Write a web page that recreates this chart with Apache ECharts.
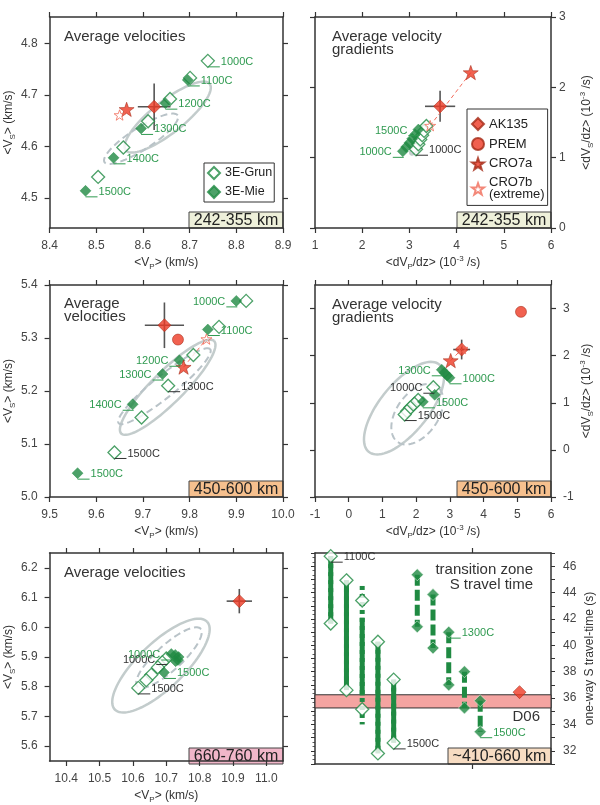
<!DOCTYPE html>
<html>
<head>
<meta charset="utf-8">
<script src="https://cdn.jsdelivr.net/npm/echarts@6/dist/echarts.min.js"></script>
<style>
  html, body { margin: 0; padding: 0; background: #fff; }
  #chart { width: 600px; height: 805px; }
</style>
</head>
<body>
<div id="chart"></div>
<script>
// ---------------- data ----------------
// 242-355 km, average velocities
var p1Grun = [[8.739,4.766],[8.701,4.733],[8.658,4.692],[8.611,4.649],[8.558,4.598],[8.504,4.541]];
var p1Mie  = [[8.696,4.729],[8.648,4.684],[8.596,4.635],[8.537,4.578],[8.477,4.514]];
var p1GrunTags = ['1000C','','','','',''];
var p1MieTags  = ['1100C','1200C','1300C','1400C','1500C'];
var p1Ak135 = [8.624,4.677], p1Ak135Err = [0.035,0.045];
var p1Cro7a = [8.565,4.672], p1Cro7b = [8.550,4.661];
// ellipses: centre x, y, half-axis a (dx, dy), half-axis b (dx, dy)
var p1Ellipses = [[8.653,4.657, 0.090,0.0642, -0.0208,0.0246], [8.596,4.615, 0.0784,0.0453, -0.0124,0.0182]];
var p1XTicks = [8.4,8.5,8.6,8.7,8.8,8.9], p1YTicks = [4.5,4.6,4.7,4.8];

// 242-355 km, average gradients
var p2Grun = [[3.14,1.12],[3.19,1.19],[3.23,1.26],[3.27,1.32],[3.31,1.38],[3.36,1.45]];
var p2Mie  = [[2.86,1.09],[2.93,1.15],[3.00,1.21],[3.06,1.27],[3.12,1.33],[3.19,1.40]];
var p2GrunTags = ['1000C','','','','',''];
var p2MieTags  = ['1000C','','','','','1500C'];
var p2Ak135 = [3.65,1.73], p2Ak135Err = [0.32,0.22];
var p2Cro7a = [4.30,2.21], p2Cro7b = [3.44,1.455];
var p2Ellipses = [[3.15,1.15, 0.12,0.10, -0.05,0.03]];
var p2XTicks = [1,2,3,4,5,6], p2YTicks = [0,1,2,3];

// 450-600 km, average velocities
var p3Grun = [[9.921,5.370],[9.863,5.321],[9.808,5.268],[9.754,5.210],[9.697,5.150],[9.639,5.084]];
var p3Mie  = [[9.900,5.370],[9.839,5.316],[9.778,5.258],[9.742,5.232],[9.678,5.175],[9.560,5.045]];
var p3GrunTags = ['','','','1300C','','1500C'];
var p3MieTags  = ['1000C','1100C','1200C','1300C','1400C','1500C'];
var p3Ak135 = [9.746,5.324], p3Ak135Err = [0.042,0.043];
var p3Prem = [9.775,5.297];
var p3Cro7a = [9.787,5.245], p3Cro7b = [9.836,5.298];
var p3Ellipses = [[9.753,5.207, 0.0996,0.0872, -0.0237,0.0215], [9.746,5.209, 0.0981,0.0698, -0.0145,0.0162]];
var p3XTicks = [9.5,9.6,9.7,9.8,9.9,10.0], p3YTicks = [5.0,5.1,5.2,5.3,5.4];

// 450-600 km, average gradients
var p4Grun = [[2.51,1.33],[2.06,1.06],[1.95,0.98],[1.83,0.90],[1.73,0.82],[1.66,0.75]];
var p4Mie  = [[2.99,1.53],[2.92,1.58],[2.84,1.64],[2.76,1.70],[2.55,1.17],[2.20,1.02]];
var p4GrunTags = ['1000C','','','','','1500C'];
var p4MieTags  = ['1000C','','','1300C','','1500C'];
var p4Ak135 = [3.35,2.13], p4Ak135Err = [0.25,0.21];
var p4Prem = [5.11,2.93];
var p4Cro7a = [3.025,1.896], p4Cro7b = [3.37,2.15];
var p4Ellipses = [[1.64,0.886, 1.047,0.927, -0.56,0.327], [2.035,0.758, 0.587,0.589, -0.50,0.26]];
var p4XTicks = [-1,0,1,2,3,4,5,6], p4YTicks = [-1,0,1,2,3];

// 660-760 km, average velocities
var p5Grun = [[10.700,5.895],[10.688,5.882],[10.675,5.865],[10.655,5.840],[10.640,5.822],[10.616,5.796]];
var p5Mie  = [[10.715,5.910],[10.727,5.907],[10.737,5.900],[10.735,5.890],[10.728,5.886],[10.693,5.848]];
var p5GrunTags = ['1000C','','','','','1500C'];
var p5MieTags  = ['1000C','','','','','1500C'];
var p5Ak135 = [10.919,6.088], p5Ak135Err = [0.038,0.041];
var p5Ellipses = [[10.684,5.871, 0.1384,0.1478, -0.0469,0.0555], [10.708,5.898, 0.095,0.097, -0.0258,0.0319]];
var p5XTicks = [10.4,10.5,10.6,10.7,10.8,10.9,11.0], p5YTicks = [5.6,5.7,5.8,5.9,6.0,6.1,6.2];

// ~410-660 km, transition zone S travel time
var p6GrunX        = [0.10,0.20,0.30,0.40,0.50];
var p6GrunHigh     = [46.76,44.93,43.40,40.27,37.40];
var p6GrunLow      = [41.65,36.60,35.15,31.80,32.60];
var p6GrunCoreHigh = [46.76,44.93,42.10,40.27,37.40];
var p6GrunCoreLow  = [41.65,36.60,36.20,31.80,32.60];
var p6GrunSpanHigh = [46.76,44.93,44.50,40.27,37.40];
var p6GrunSpanLow  = [41.65,36.60,34.00,31.80,32.60];
var p6MieX    = [0.65,0.75,0.85,0.95,1.05];
var p6MieHigh = [45.35,43.85,41.00,38.00,35.80];
var p6MieLow  = [41.40,39.80,37.00,35.25,33.45];
var p6GrunHighTags = ['1100C','','','',''], p6GrunLowTags = ['','','','','1500C'];
var p6MieHighTags  = ['','','1300C','',''], p6MieLowTags  = ['','','','','1500C'];
var p6D06 = [1.30,36.45];
var p6D06Band = [35.25,36.25];
var p6XTicks = [1], p6YTicks = [32,34,36,38,40,42,44,46];

// ---------------- styles / helpers ----------------
var FONT = '"Liberation Sans", Arial, sans-serif';
var G = '#1f8a42', GL = '#2f9a50', K = '#333', RED = '#ee3a24', REDB = '#a42a16';
var STAR = 'path://M50,0L61.8,33.8L97.6,34.5L69,56.2L79.4,90.5L50,70L20.6,90.5L31,56.2L2.4,34.5L38.2,33.8Z';

var grids = [
  {left: 47,  top: 17,  width: 236, height: 211},
  {left: 315, top: 17,  width: 236, height: 211},
  {left: 47,  top: 285, width: 236, height: 212},
  {left: 315, top: 285, width: 236, height: 212},
  {left: 47,  top: 553, width: 236, height: 211},
  {left: 315, top: 553, width: 236, height: 211}
];
var xAxes = [], yAxes = [], series = [], graphics = [];

var richName = {
  s: {fontSize: 8, verticalAlign: 'bottom', lineHeight: 10, color: K, fontFamily: FONT},
  u: {fontSize: 8, verticalAlign: 'top', lineHeight: 10, color: K, fontFamily: FONT}
};

function axis(gi, pos, range, ticks, showLabels, fmt, margin) {
  return {
    type: 'value', gridIndex: gi, position: pos, min: range[0], max: range[1],
    splitLine: {show: false},
    axisLine: {show: true, onZero: false, lineStyle: {color: K, width: 1.5}},
    axisTick: {show: true, length: 5, customValues: ticks, lineStyle: {color: K, width: 1.2}},
    axisLabel: {show: showLabels, customValues: ticks, formatter: fmt, margin: margin || 12,
      color: '#444', fontSize: 12, fontFamily: FONT},
    nameTextStyle: {fontSize: 12, color: K, fontFamily: FONT, lineHeight: 16, rich: richName}
  };
}
function f1(v) { return v.toFixed(1); }
function f0(v) { return String(Math.round(v)); }

function addAxes(gi, xr, yr, xt, yt, fmt, xName, yName, rightSide, rMargin) {
  var xb = axis(gi, 'bottom', xr, xt, true, fmt, 12);
  xb.name = xName; xb.nameLocation = 'middle'; xb.nameGap = 27;
  xAxes.push(xb, axis(gi, 'top', xr, xt, false, fmt));
  var yl = axis(gi, 'left', yr, yt, !rightSide, fmt, 12);
  var yrr = axis(gi, 'right', yr, yt, rightSide, fmt, rMargin || 12);
  var ny = rightSide ? yrr : yl;
  ny.name = yName; ny.nameLocation = 'middle'; ny.nameRotate = 90; ny.nameGap = rightSide ? 28 : 30;
  yAxes.push(yl, yrr);
}

function onGrid(gi, s) { s.xAxisIndex = 2 * gi; s.yAxisIndex = 2 * gi; return s; }

function scatter(gi, name, data, sym, size, style, z) {
  return onGrid(gi, {type: 'scatter', name: name, data: data, symbol: sym, symbolSize: size,
    symbolKeepAspect: true, itemStyle: style, z: z, silent: true});
}

var openG = {color: '#fff', borderColor: G, borderWidth: 1.3};
var fillG = {color: G, borderColor: G, borderWidth: 0.5};
var redS  = {color: RED, borderColor: REDB, borderWidth: 0.7};
var openStar = {color: 'rgba(0,0,0,0)', borderColor: '#f06a58', borderWidth: 1};

function ellipseSeries(gi, e, dashed) {
  return onGrid(gi, {
    type: 'custom', silent: true, z: 1, data: [[e[0], e[1]]],
    renderItem: function (params, api) {
      var pts = [];
      for (var k = 0; k <= 90; k++) {
        var t = k / 90 * 2 * Math.PI;
        pts.push(api.coord([e[0] + e[2] * Math.cos(t) + e[4] * Math.sin(t),
                            e[1] + e[3] * Math.cos(t) + e[5] * Math.sin(t)]));
      }
      return {type: 'polyline', shape: {points: pts},
        style: {fill: null, stroke: dashed ? '#b9c3c8' : '#c3cccc', lineWidth: dashed ? 2 : 2.5,
                lineDash: dashed ? [7, 4] : null}};
    }
  });
}

function errSeries(gi, p, err) {
  return onGrid(gi, {
    type: 'custom', silent: true, z: 2, data: [p],
    renderItem: function (params, api) {
      var a = api.coord([p[0] - err[0], p[1]]), b = api.coord([p[0] + err[0], p[1]]);
      var c = api.coord([p[0], p[1] - err[1]]), d = api.coord([p[0], p[1] + err[1]]);
      var st = {stroke: '#555', lineWidth: 1.6};
      return {type: 'group', children: [
        {type: 'line', shape: {x1: a[0], y1: a[1], x2: b[0], y2: b[1]}, style: st},
        {type: 'line', shape: {x1: c[0], y1: c[1], x2: d[0], y2: d[1]}, style: st}
      ]};
    }
  });
}

function tagItems(pts, tags, sides) {
  var out = [];
  pts.forEach(function (p, i) { if (tags[i]) out.push({p: p, t: tags[i], s: sides[i] || 'r'}); });
  return out;
}

function tagSeries(gi, items, color) {
  return onGrid(gi, {
    type: 'custom', silent: true, z: 6, data: items.map(function (d) { return d.p; }),
    renderItem: function (params, api) {
      var it = items[params.dataIndex];
      var c = api.coord(it.p);
      var r = it.s === 'r';
      var y = c[1] + 6;
      var x1 = r ? c[0] + 12 : c[0] - 10;
      return {type: 'group', children: [
        {type: 'line', shape: {x1: r ? c[0] : c[0] + 1, y1: y, x2: x1, y2: y}, style: {stroke: color, lineWidth: 1}},
        {type: 'text', style: {text: it.t, x: r ? x1 + 1 : x1 - 1, y: c[1] + 1, fill: color,
          font: '11px ' + FONT, align: r ? 'left' : 'right', verticalAlign: 'middle'}}
      ]};
    }
  });
}

function crLine(gi, a, b) {
  return onGrid(gi, {type: 'line', data: [a, b], symbol: 'none', silent: true, z: 2,
    lineStyle: {color: '#f26b5b', width: 1, type: [4, 3]}});
}

function addPanel(gi, d) {
  (d.ellipses || []).forEach(function (e, i) { series.push(ellipseSeries(gi, e, i === 1)); });
  if (d.line) series.push(crLine(gi, d.cro7a, d.cro7b));
  series.push(scatter(gi, '3E-Grun', d.grun, 'diamond', 13, openG, 3));
  series.push(scatter(gi, '3E-Mie', d.mie, 'diamond', 11, fillG, 4));
  series.push(errSeries(gi, d.ak, d.akErr));
  series.push(scatter(gi, 'AK135', [d.ak], 'diamond', 13, redS, 5));
  if (d.prem) series.push(scatter(gi, 'PREM', [d.prem], 'circle', 11, redS, 5));
  if (d.cro7a) series.push(scatter(gi, 'CRO7a', [d.cro7a], STAR, 15, redS, 5));
  if (d.cro7b) series.push(scatter(gi, 'CRO7b', [d.cro7b], STAR, 11, openStar, 5));
  series.push(tagSeries(gi, tagItems(d.grun, d.grunTags, d.grunSides), d.grunColor));
  series.push(tagSeries(gi, tagItems(d.mie, d.mieTags, d.mieSides), GL));
}

var vpName = '<V{s|P}> (km/s)', vsName = '<V{s|S}> (km/s)';
var gpName = '<dV{s|P}/dz> (10{u|-3} /s)', gsName = '<dV{s|S}/dz> (10{u|-3} /s)';

// panel 1
addAxes(0, [8.4, 8.9], [4.442, 4.851], p1XTicks, p1YTicks, f1, vpName, vsName, false);
addPanel(0, {grun: p1Grun, mie: p1Mie, grunTags: p1GrunTags, mieTags: p1MieTags,
  grunSides: ['r','r','r','r','r','r'], mieSides: ['r','r','r','r','r'], grunColor: GL,
  ak: p1Ak135, akErr: p1Ak135Err, cro7a: p1Cro7a, cro7b: p1Cro7b, ellipses: p1Ellipses});
// panel 2
addAxes(1, [1, 6], [0, 3], p2XTicks, p2YTicks, f0, gpName, gsName, true, 8);
addPanel(1, {grun: p2Grun, mie: p2Mie, grunTags: p2GrunTags, mieTags: p2MieTags,
  grunSides: ['r'], mieSides: ['l','l','l','l','l','l'], grunColor: K,
  ak: p2Ak135, akErr: p2Ak135Err, cro7a: p2Cro7a, cro7b: p2Cro7b, ellipses: p2Ellipses, line: true});
// panel 3
addAxes(2, [9.5, 10.0], [5.0, 5.4], p3XTicks, p3YTicks, f1, vpName, vsName, false);
addPanel(2, {grun: p3Grun, mie: p3Mie, grunTags: p3GrunTags, mieTags: p3MieTags,
  grunSides: ['r','r','r','r','r','r'], mieSides: ['l','r','l','l','l','r'], grunColor: K,
  ak: p3Ak135, akErr: p3Ak135Err, prem: p3Prem, cro7a: p3Cro7a, cro7b: p3Cro7b, ellipses: p3Ellipses, line: true});
// panel 4
addAxes(3, [-1, 6], [-1, 3.5], p4XTicks, p4YTicks, f0, gpName, gsName, true, 12);
addPanel(3, {grun: p4Grun, mie: p4Mie, grunTags: p4GrunTags, mieTags: p4MieTags,
  grunSides: ['l','r','r','r','r','r'], mieSides: ['r','r','r','l','r','r'], grunColor: K,
  ak: p4Ak135, akErr: p4Ak135Err, prem: p4Prem, cro7a: p4Cro7a, cro7b: p4Cro7b, ellipses: p4Ellipses, line: true});
// panel 5
addAxes(4, [10.35, 11.05], [5.55, 6.25], p5XTicks, p5YTicks, f1, vpName, vsName, false);
addPanel(4, {grun: p5Grun, mie: p5Mie, grunTags: p5GrunTags, mieTags: p5MieTags,
  grunSides: ['l','r','r','r','r','r'], mieSides: ['l','r','r','r','r','r'], grunColor: K,
  ak: p5Ak135, akErr: p5Ak135Err, ellipses: p5Ellipses});

// panel 6 axes
(function () {
  var xb = axis(5, 'bottom', [0, 1.5], p6XTicks, false, f0);
  var xt = axis(5, 'top', [0, 1.5], p6XTicks, false, f0);
  xAxes.push(xb, xt);
  var yl = axis(5, 'left', [31, 47], null, false, f0);
  yl.interval = 1;
  yl.axisTick = {show: true, length: 4, lineStyle: {color: K, width: 1}};
  yl.minorTick = {show: true, splitNumber: 3, length: 2.5, lineStyle: {color: K, width: 0.8}};
  var yr = axis(5, 'right', [31, 47], null, true, f0, 12);
  yr.interval = 1;
  yr.axisTick = {show: true, length: 4, lineStyle: {color: K, width: 1}};
  yr.axisLabel.customValues = p6YTicks;
  yr.name = 'one-way S travel-time (s)'; yr.nameLocation = 'middle'; yr.nameRotate = 90; yr.nameGap = 31;
  yAxes.push(yl, yr);
})();

function pairs(xs, ys) { return xs.map(function (x, i) { return [x, ys[i]]; }); }

function barSeries(xs, hi, lo, color, dash, z) {
  return onGrid(5, {
    type: 'custom', silent: true, z: z, data: pairs(xs, hi),
    renderItem: function (params, api) {
      var i = params.dataIndex;
      var a = api.coord([xs[i], hi[i]]), b = api.coord([xs[i], lo[i]]);
      return {type: 'line', shape: {x1: a[0], y1: a[1], x2: b[0], y2: b[1]},
        style: {stroke: color, lineWidth: 5, lineDash: dash, lineCap: 'butt'}};
    }
  });
}

// D06 band
series.push(onGrid(5, {type: 'line', data: [], silent: true, z: 1,
  markArea: {silent: true, itemStyle: {color: '#f4a4a1', borderColor: K, borderWidth: 1},
    data: [[{yAxis: p6D06Band[0]}, {yAxis: p6D06Band[1]}]]}}));
series.push(barSeries(p6GrunX, p6GrunSpanHigh, p6GrunSpanLow, G, [4, 4], 2));
series.push(barSeries(p6GrunX, p6GrunCoreHigh, p6GrunCoreLow, G, null, 2));
series.push(barSeries(p6MieX, p6MieHigh, p6MieLow, G, [11, 4], 2));
series.push(scatter(5, '3E-Grun', pairs(p6GrunX, p6GrunHigh).concat(pairs(p6GrunX, p6GrunLow)), 'diamond', 13, openG, 3));
series.push(scatter(5, '3E-Mie', pairs(p6MieX, p6MieHigh).concat(pairs(p6MieX, p6MieLow)), 'diamond', 12,
  {color: G, borderColor: '#e8f4ea', borderWidth: 0.7}, 3));
series.push(scatter(5, 'AK135', [p6D06], 'diamond', 13, redS, 5));
series.push(tagSeries(5, tagItems(pairs(p6GrunX, p6GrunHigh), p6GrunHighTags, []), K));
series.push(tagSeries(5, tagItems(pairs(p6GrunX, p6GrunLow), p6GrunLowTags, []), K));
series.push(tagSeries(5, tagItems(pairs(p6MieX, p6MieHigh), p6MieHighTags, []), GL));
series.push(tagSeries(5, tagItems(pairs(p6MieX, p6MieLow), p6MieLowTags, []), GL));

// ---------------- annotations ----------------
function title(x, y, text, align, lh) {
  return {type: 'text', x: x, y: y, z: 50, silent: true,
    style: {text: text, font: '15px ' + FONT, fill: K, align: align || 'left', verticalAlign: 'top', lineHeight: lh || 16}};
}
function depthBox(gi, text, w, fill) {
  var g = grids[gi];
  return {type: 'group', x: g.left + g.width - w, y: g.top + g.height - 16, z: 60, silent: true, children: [
    {type: 'rect', shape: {x: 0, y: 0, width: w, height: 16}, style: {fill: fill, stroke: '#444', lineWidth: 1}},
    {type: 'text', x: w / 2, y: 8.5, style: {text: text, font: '16px ' + FONT, fill: '#222', align: 'center', verticalAlign: 'middle'}}
  ]};
}
graphics.push(
  title(64, 29, 'Average velocities'),
  title(332, 30, 'Average velocity\ngradients', 'left', 13.5),
  title(64, 297, 'Average\nvelocities', 'left', 13.5),
  title(332, 298, 'Average velocity\ngradients', 'left', 13.5),
  title(64, 565, 'Average velocities'),
  title(533, 563, 'transition zone\nS travel time', 'right', 14.5),
  {type: 'text', x: 540, y: 717, z: 50, silent: true,
    style: {text: 'D06', font: '15px ' + FONT, fill: K, align: 'right', verticalAlign: 'middle'}},
  depthBox(0, '242-355 km', 94, '#eef0da'),
  depthBox(1, '242-355 km', 94, '#eef0da'),
  depthBox(2, '450-600 km', 94, '#f6c08e'),
  depthBox(3, '450-600 km', 94, '#f6c08e'),
  depthBox(4, '660-760 km', 94, '#f1b6c9'),
  depthBox(5, '~410-660 km', 103, '#f7dcc2')
);

var legendBase = {orient: 'vertical', selectedMode: false, backgroundColor: '#fff',
  borderColor: K, borderWidth: 1, itemWidth: 12, itemHeight: 12, itemTextGap: 4,
  textStyle: {fontSize: 13, color: '#222', fontFamily: FONT, lineHeight: 12}};

var chart = echarts.init(document.getElementById('chart'), null, {renderer: 'canvas'});
chart.setOption({
  animation: false,
  textStyle: {fontFamily: FONT},
  grid: grids,
  xAxis: xAxes,
  yAxis: yAxes,
  legend: [
    Object.assign({}, legendBase, {left: 204, top: 163, itemGap: 5, padding: [3, 2, 3, 3],
      textStyle: {fontSize: 12.5, color: '#222', fontFamily: FONT, lineHeight: 12},
      data: ['3E-Grun', '3E-Mie']}),
    Object.assign({}, legendBase, {left: 467, top: 109, itemGap: 6, padding: [8, 3, 4, 4],
      data: ['AK135', 'PREM', 'CRO7a', 'CRO7b'],
      formatter: function (n) { return n === 'CRO7b' ? 'CRO7b\n(extreme)' : n; }})
  ],
  graphic: graphics,
  series: series
});
</script>
</body>
</html>
